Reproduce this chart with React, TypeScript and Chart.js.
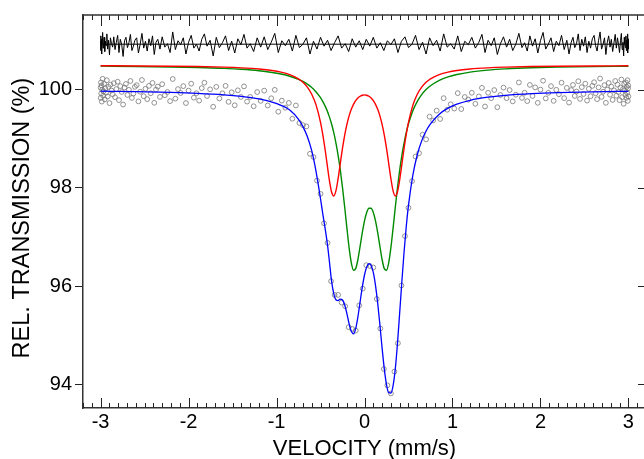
import React, { useEffect, useRef } from "react";
import { Chart, registerables } from "chart.js";

Chart.register(...registerables);

// Velocity grid for the fitted curves (mm/s)
const CURVE_V = [
  -3.0, -2.6, -2.2, -1.9, -1.6, -1.4, -1.2, -1.05, -0.95, -0.85, -0.75, -0.7, -0.65, -0.6, -0.55, -0.5,
  -0.475, -0.45, -0.425, -0.4, -0.375, -0.35, -0.325, -0.3, -0.275, -0.25, -0.225, -0.2, -0.175, -0.15,
  -0.125, -0.1, -0.075, -0.05, -0.025, 0, 0.025, 0.05, 0.075, 0.1, 0.125, 0.15, 0.175, 0.2, 0.225, 0.25,
  0.275, 0.3, 0.325, 0.35, 0.375, 0.4, 0.425, 0.45, 0.475, 0.5, 0.55, 0.6, 0.65, 0.7, 0.75, 0.85, 0.95,
  1.05, 1.2, 1.4, 1.6, 1.9, 2.2, 2.6, 3.0,
];

// Red sub-spectrum (doublet 1)
const FIT_RED = [
  100.49, 100.487, 100.481, 100.474, 100.462, 100.448, 100.425, 100.395, 100.362, 100.311, 100.224, 100.155,
  100.056, 99.911, 99.688, 99.338, 99.098, 98.809, 98.485, 98.165, 97.923, 97.837, 97.941, 98.189, 98.502,
  98.81, 99.078, 99.297, 99.47, 99.603, 99.704, 99.779, 99.833, 99.869, 99.89, 99.897, 99.89, 99.869, 99.833,
  99.779, 99.704, 99.603, 99.47, 99.297, 99.078, 98.81, 98.502, 98.189, 97.941, 97.837, 97.923, 98.165, 98.485,
  98.809, 99.098, 99.338, 99.688, 99.911, 100.056, 100.155, 100.224, 100.311, 100.362, 100.395, 100.425,
  100.448, 100.462, 100.474, 100.481, 100.487, 100.49,
];

// Green sub-spectrum (doublet 2)
const FIT_GREEN = [
  100.482, 100.476, 100.466, 100.455, 100.437, 100.418, 100.389, 100.354, 100.322, 100.277, 100.213, 100.17,
  100.115, 100.047, 99.957, 99.839, 99.765, 99.678, 99.576, 99.454, 99.308, 99.132, 98.921, 98.666, 98.363,
  98.007, 97.606, 97.182, 96.782, 96.475, 96.324, 96.356, 96.541, 96.809, 97.089, 97.329, 97.499, 97.586,
  97.586, 97.499, 97.329, 97.089, 96.809, 96.541, 96.356, 96.324, 96.475, 96.782, 97.182, 97.606, 98.007,
  98.363, 98.666, 98.921, 99.132, 99.308, 99.576, 99.765, 99.903, 100.005, 100.083, 100.193, 100.264, 100.312,
  100.361, 100.401, 100.426, 100.449, 100.462, 100.473, 100.48,
];

// Total fit (blue)
const FIT_TOTAL = [
  99.972, 99.963, 99.948, 99.929, 99.899, 99.866, 99.814, 99.749, 99.684, 99.588, 99.4, 99.25, 99.05, 98.76,
  98.33, 97.78, 97.48, 97.2, 96.9, 96.52, 96.11, 95.85, 95.72, 95.705, 95.735, 95.717, 95.614, 95.439, 95.232,
  95.077, 95.027, 95.134, 95.373, 95.678, 95.979, 96.226, 96.389, 96.455, 96.419, 96.278, 96.013, 95.652,
  95.209, 94.738, 94.314, 93.993, 93.827, 93.821, 93.973, 94.313, 94.83, 95.458, 96.1, 96.7, 97.22, 97.646,
  98.264, 98.676, 98.959, 99.16, 99.307, 99.504, 99.626, 99.707, 99.786, 99.85, 99.888, 99.923, 99.944, 99.96,
  99.97,
];

// Measured channels: velocity (mm/s)
const DATA_V = [
  -2.9995, -2.998, -2.996, -2.993, -2.99, -2.986, -2.982, -2.977, -2.972, -2.966, -2.96, -2.953, -2.946, -2.938,
  -2.929, -2.92, -2.91, -2.899, -2.888, -2.876, -2.863, -2.85,
  -2.836, -2.821, -2.806, -2.791, -2.776, -2.76, -2.744, -2.728, -2.712, -2.695, -2.678, -2.661, -2.644, -2.627, -2.61,
  -2.59, -2.57, -2.55, -2.53, -2.51, -2.49, -2.47, -2.45, -2.43, -2.41, -2.39, -2.37, -2.35, -2.325,
  -2.3, -2.27, -2.24, -2.21, -2.18, -2.15, -2.12, -2.09, -2.06, -2.03, -2.0, -1.97, -1.94, -1.91, -1.88, -1.85, -1.82,
  -1.79, -1.755, -1.72, -1.685, -1.65, -1.615, -1.58, -1.545, -1.51, -1.475, -1.44, -1.405, -1.37, -1.335, -1.3, -1.26, -1.22,
  -1.18, -1.14, -1.1, -1.06, -1.02, -0.98, -0.94, -0.9, -0.86, -0.82, -0.78, -0.74, -0.7, -0.66, -0.62, -0.58, -0.54,
  -0.5, -0.46, -0.42, -0.38, -0.34, -0.3, -0.26, -0.22, -0.18, -0.14, -0.1, -0.06, -0.02,
  0.02, 0.06, 0.1, 0.14, 0.18, 0.22, 0.26, 0.3, 0.34, 0.38, 0.42, 0.46, 0.5, 0.54, 0.58, 0.62, 0.66, 0.7, 0.74,
  0.78, 0.82, 0.86, 0.9, 0.94, 0.98, 1.02, 1.06, 1.1, 1.14, 1.18,
  1.22, 1.26, 1.3, 1.335, 1.37, 1.405, 1.44, 1.475, 1.51, 1.545, 1.58, 1.615, 1.65, 1.685, 1.72, 1.755, 1.79,
  1.82, 1.85, 1.88, 1.91, 1.94, 1.97, 2.0, 2.03, 2.06, 2.09, 2.12, 2.15, 2.18, 2.21, 2.24, 2.27, 2.3,
  2.325, 2.35, 2.37, 2.39, 2.41, 2.43, 2.45, 2.47, 2.49, 2.51, 2.53, 2.55, 2.57, 2.59,
  2.61, 2.627, 2.644, 2.661, 2.678, 2.695, 2.712, 2.728, 2.744, 2.76, 2.776, 2.791, 2.806, 2.821, 2.836,
  2.85, 2.863, 2.876, 2.888, 2.899, 2.91, 2.92, 2.929, 2.938, 2.946, 2.953, 2.96, 2.966, 2.972, 2.977, 2.982,
  2.986, 2.99, 2.993, 2.996, 2.998, 2.9995,
];

// Measured relative transmission (%)
const DATA_T = [
  100.045, 99.835, 100.15, 99.925, 100.09, 99.76, 100.0, 100.225, 99.88, 99.97, 100.12, 99.805, 100.03, 99.94,
  100.195, 99.865, 100.06, 99.73, 100.105, 99.985, 99.91, 100.135,
  99.85, 100.015, 100.165, 99.79, 100.075, 99.955, 99.7, 100.045, 100.12, 99.895, 100.0, 100.18, 99.835, 99.925, 100.06,
  100.095, 99.765, 99.96, 100.2, 99.87, 100.02, 99.81, 100.08, 99.93, 100.14, 99.735, 100.005, 100.065, 99.855,
  100.115, 99.89, 99.955, 99.77, 100.22, 99.82, 100.015, 99.935, 100.075, 99.73, 99.985, 100.125, 99.84, 99.93, 99.78,
  100.035, 100.145,
  99.875, 100.01, 99.655, 100.06, 99.825, 99.93, 100.08, 99.755, 99.95, 99.685, 99.99, 99.855, 100.07, 99.76, 99.855,
  99.665, 99.955,
  99.775, 99.983, 99.681, 99.828, 100.0, 99.554, 99.779, 99.636, 99.733, 99.411, 99.681, 99.325, 99.28, 99.255, 98.696,
  98.63, 98.15, 97.88, 97.28, 96.88, 96.1, 95.82, 95.82, 95.664, 95.589, 95.163, 95.127, 95.094, 95.606, 95.948,
  96.426, 96.41, 96.378, 95.736, 95.135, 94.309, 93.977, 93.811, 94.257, 94.836, 96.012, 97.018, 97.596, 98.14, 98.641,
  98.709, 99.085, 98.99, 99.453, 99.376, 99.575, 99.406, 99.83, 99.594, 99.705, 99.618, 99.932, 99.608, 99.854, 99.8,
  99.94, 99.715, 99.865, 100.04, 99.66, 99.94, 99.83, 99.995, 99.645, 99.895, 100.045, 99.83, 99.995, 99.765, 99.9,
  100.15, 99.835,
  99.94, 99.77, 100.1, 99.875, 100.05, 99.735, 100.005, 100.185, 99.825, 99.94, 100.075, 99.775, 100.0, 99.91, 100.145,
  99.83, 100.04,
  99.74, 99.995, 100.1, 99.875, 99.965, 100.175, 99.815, 100.055, 99.915, 100.125, 99.78, 100.02, 99.87, 100.08,
  100.155, 99.93, 99.81, 100.05, 100.23, 99.855, 99.96, 100.095, 99.735, 100.005, 100.14, 99.9, 100.065, 99.795, 99.99,
  100.18, 99.88, 100.105, 99.955, 99.79, 100.045, 100.21, 99.85, 100.015, 99.715, 100.12, 99.985, 99.895, 100.15,
  99.835, 100.06, 99.94, 100.195, 99.775, 100.03, 100.09, 99.865,
];

// Residuals (data minus fit), drawn about an offset line at the top
const RESID_BASE = 100.93;
const RESID = [
  101.0, 100.8, 101.1, 100.89, 101.04, 100.73, 100.96, 101.17, 100.85, 100.93, 101.07, 100.78, 100.99, 100.9, 101.14,
  100.83, 101.01, 100.71, 101.06, 100.94, 100.87, 101.08,
  100.82, 100.97, 101.11, 100.76, 101.03, 100.92, 100.68, 101.0, 101.07, 100.86, 100.96, 101.13, 100.8, 100.89, 101.01,
  101.06, 100.75, 100.93, 101.15, 100.85, 100.99, 100.79, 101.04, 100.9, 101.1, 100.72, 100.97, 101.03, 100.83,
  101.08, 100.87, 100.94, 100.76, 101.18, 100.82, 101.0, 100.92, 101.06, 100.73, 100.97, 101.11, 100.85, 100.93, 100.79, 101.03, 101.14,
  100.89, 101.01, 100.69, 101.07, 100.86, 100.96, 101.1, 100.8, 100.99, 100.75, 101.04, 100.92, 101.13, 100.85, 100.94, 100.78, 101.06,
  100.87, 101.08, 100.82, 100.97, 101.15, 100.76, 101.0, 100.9, 101.03, 100.79, 101.11, 100.86, 100.93, 101.06,
  100.73, 100.99, 100.83, 101.07, 100.89, 101.01, 100.8, 100.96, 101.1, 100.85, 100.94, 100.78, 101.04, 100.87, 101.0, 100.82,
  101.03, 100.89, 101.07, 100.85, 100.96, 100.8, 101.0, 100.92, 101.04, 100.76, 100.99, 101.08, 100.86, 100.93,
  101.11, 100.82, 100.97, 100.73, 101.06, 100.9, 101.01, 100.79, 101.14, 100.87, 100.94, 100.83, 101.1, 100.78, 100.99, 100.92,
  101.07, 100.85, 100.97, 101.13, 100.76, 101.01, 100.9, 101.06, 100.72, 100.94, 101.08, 100.87, 101.03, 100.8, 100.93, 101.15, 100.86,
  100.96, 100.79, 101.1, 100.89, 101.04, 100.75, 101.0, 101.17, 100.83, 100.93, 101.06, 100.78, 100.99, 100.9, 101.11, 100.82, 101.01,
  100.73, 100.97, 101.07, 100.86, 100.94, 101.14, 100.8, 101.03, 100.89, 101.08, 100.76, 100.99, 100.85, 101.04,
  101.11, 100.9, 100.79, 101.01, 101.18, 100.83, 100.93, 101.06, 100.72, 100.97, 101.1, 100.87, 101.03, 100.78, 100.96,
  101.13, 100.85, 101.06, 100.92, 100.76, 101.0, 101.15, 100.82, 100.97, 100.69, 101.07, 100.94, 100.86, 101.1, 100.8,
  101.01, 100.9, 101.14, 100.75, 100.99, 101.04, 100.83,
];
const RESID_SPAN = [-3.0, 3.0];

const X_TICKS = [-3, -2, -1, 0, 1, 2, 3];
const Y_TICKS = [94, 96, 98, 100];

const FONT = "'Liberation Sans', Arial, Helvetica, sans-serif";

const pts = (xs: number[], ys: number[]) => xs.map((x, i) => ({ x, y: ys[i] }));

const frameTicks = {
  id: "frameTicks",
  afterDraw(chart: any) {
    const { ctx, chartArea, scales } = chart;
    const { left, right, top, bottom } = chartArea;
    const xs = scales.x;
    const ys = scales.y;
    ctx.save();
    ctx.strokeStyle = "#222";
    ctx.lineWidth = 1;
    ctx.beginPath();
    for (let i = -32; i <= 32; i++) {
      const px = Math.round(xs.getPixelForValue(i / 10)) + 0.5;
      const major = i % 10 === 0;
      ctx.moveTo(px, bottom);
      ctx.lineTo(px, bottom - (major ? 10 : 5));
      ctx.moveTo(px, top);
      ctx.lineTo(px, top + (major ? 11 : 5));
    }
    Y_TICKS.forEach((v) => {
      const py = Math.round(ys.getPixelForValue(v)) + 0.5;
      ctx.moveTo(right, py);
      ctx.lineTo(right - 8, py);
    });
    ctx.stroke();
    ctx.lineWidth = 1.5;
    ctx.strokeStyle = "#333";
    ctx.beginPath();
    ctx.moveTo(left, top);
    ctx.lineTo(right, top);
    ctx.lineTo(right, bottom);
    ctx.stroke();
    ctx.restore();
  },
};

export default function App() {
  const ref = useRef<HTMLCanvasElement | null>(null);
  useEffect(() => {
    if (!ref.current) return;
    const chart = new Chart(ref.current, {
      type: "line",
      data: {
        datasets: [
          {
            label: "residual zero",
            data: pts(RESID_SPAN, [RESID_BASE, RESID_BASE]),
            borderColor: "#000",
            borderWidth: 1,
            pointRadius: 0,
            order: 1,
          },
          {
            label: "residual",
            data: pts(DATA_V, RESID),
            borderColor: "#000",
            borderWidth: 1,
            pointRadius: 0,
            tension: 0,
            order: 1,
          },
          {
            label: "data",
            data: pts(DATA_V, DATA_T),
            showLine: false,
            pointRadius: 2.4,
            pointBorderColor: "#777",
            pointBackgroundColor: "rgba(255,255,255,0)",
            pointBorderWidth: 0.8,
            order: 5,
          },
          {
            label: "doublet 1",
            data: pts(CURVE_V, FIT_RED),
            borderColor: "#ff0000",
            borderWidth: 1.4,
            pointRadius: 0,
            cubicInterpolationMode: "monotone",
            order: 1,
          },
          {
            label: "doublet 2",
            data: pts(CURVE_V, FIT_GREEN),
            borderColor: "#008a00",
            borderWidth: 1.4,
            pointRadius: 0,
            cubicInterpolationMode: "monotone",
            order: 3,
          },
          {
            label: "total fit",
            data: pts(CURVE_V, FIT_TOTAL),
            borderColor: "#0000ff",
            borderWidth: 1.3,
            pointRadius: 0,
            cubicInterpolationMode: "monotone",
            order: 0,
          },
        ],
      },
      options: {
        animation: false,
        responsive: false,
        events: [],
        layout: { padding: { top: 14, right: 14, left: 0, bottom: 0 } },
        plugins: { legend: { display: false }, tooltip: { enabled: false } },
        scales: {
          x: {
            type: "linear",
            position: "bottom",
            min: -3.2,
            max: 3.2,
            afterFit: (s: any) => {
              s.height = 51;
            },
            afterBuildTicks: (s: any) => {
              s.ticks = X_TICKS.map((v) => ({ value: v }));
            },
            grid: { drawOnChartArea: false, drawTicks: false },
            border: { display: true, color: "#333", width: 1.5 },
            ticks: {
              padding: 2,
              color: "#000",
              font: { family: FONT, size: 20 },
              maxRotation: 0,
              autoSkip: false,
              callback: (v: any) => String(v),
            },
            title: {
              display: true,
              text: "VELOCITY (mm/s)",
              color: "#000",
              font: { family: FONT, size: 22, lineHeight: 0.9 },
              padding: 0,
            },
          },
          y: {
            type: "linear",
            min: 93.515,
            max: 101.525,
            afterFit: (s: any) => {
              s.width = 83;
            },
            afterBuildTicks: (s: any) => {
              s.ticks = Y_TICKS.map((v) => ({ value: v }));
            },
            grid: { drawOnChartArea: false, drawTicks: true, tickLength: 8, color: "#222", lineWidth: 1 },
            border: { display: true, color: "#333", width: 1.5 },
            ticks: {
              padding: 3,
              color: "#000",
              font: { family: FONT, size: 20 },
              callback: (v: any) => String(v),
            },
            title: {
              display: true,
              text: "REL. TRANSMISSION (%)  ",
              color: "#000",
              font: { family: FONT, size: 23.5, lineHeight: 1.2 },
              padding: { top: 8, bottom: 0 },
            },
          },
        },
      } as any,
      plugins: [frameTicks],
    });
    return () => chart.destroy();
  }, []);

  return (
    <div
      style={{
        position: "fixed",
        left: 0,
        top: 0,
        width: 644,
        height: 459,
        overflow: "hidden",
        background: "#fff",
      }}
    >
      <canvas ref={ref} width={660} height={459} style={{ width: 660, height: 459, display: "block" }} />
    </div>
  );
}
